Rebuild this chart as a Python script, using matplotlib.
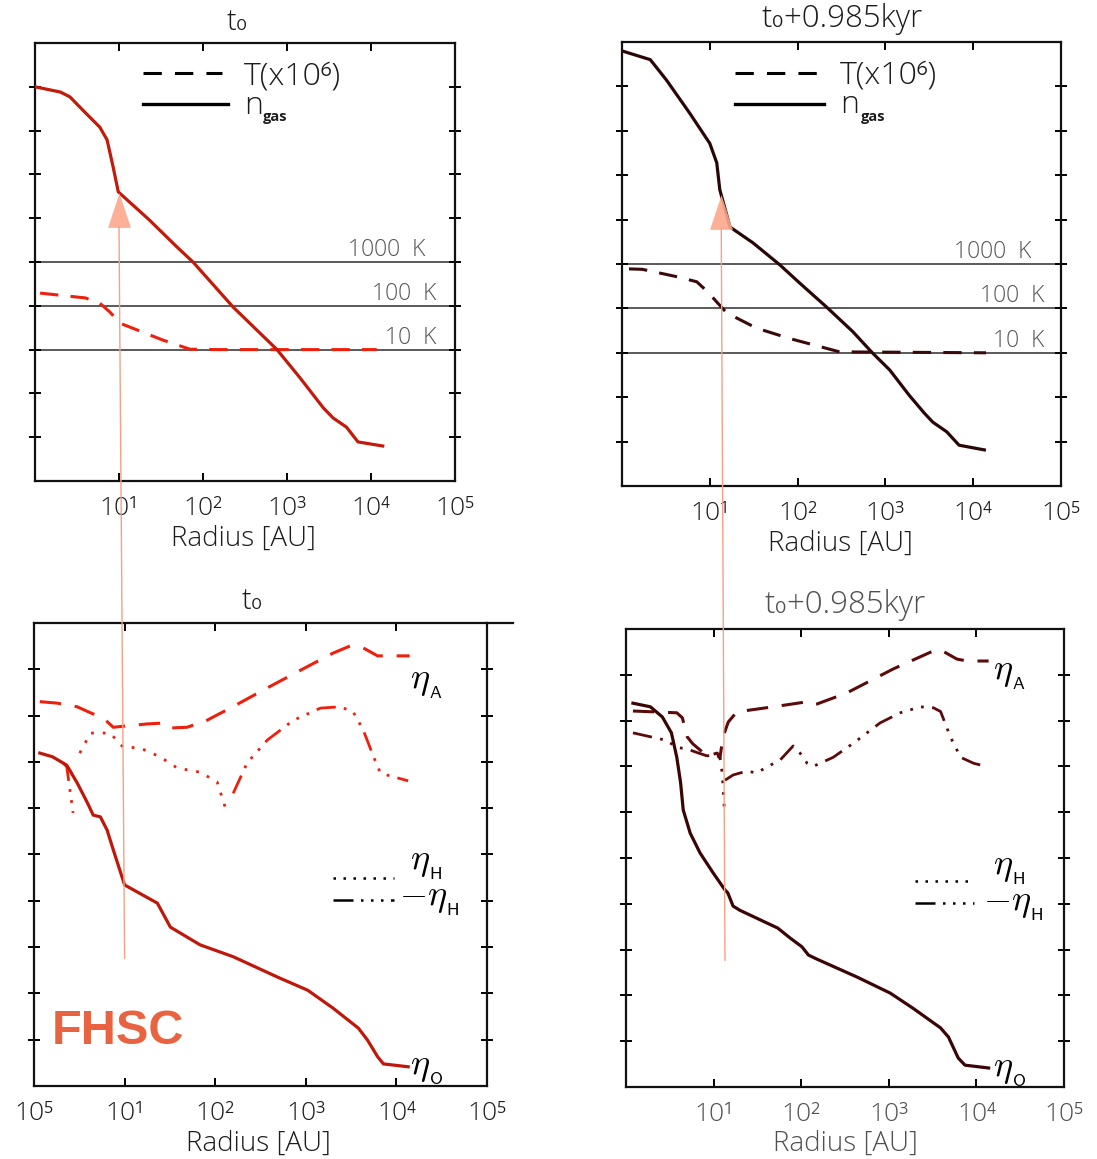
import numpy as np
import matplotlib
matplotlib.use("Agg")
import matplotlib.pyplot as plt
from matplotlib.lines import Line2D
from matplotlib.patches import ConnectionPatch
from matplotlib.path import Path
from matplotlib.ticker import FixedLocator, NullLocator, LogLocator, NullFormatter
from matplotlib.transforms import blended_transform_factory

plt.rcParams["font.family"] = ["Open Sans", "DejaVu Sans"]
plt.rcParams["font.weight"] = "light"
plt.rcParams["mathtext.fontset"] = "cm"

# ---------------------------------------------------------------- data
# radius in AU, gas density in cm^-3, temperature in K, resistivities in cm^2/s
ngas_t0_r = [1.0, 2.0, 2.6, 3.7, 5.9, 7.2, 8.5, 9.8, 23, 49, 76, 229, 760,
             1420, 2700, 3540, 5100, 7000, 13800]
ngas_t0 = [1.0e13, 7.6e12, 5.9e12, 2.95e12, 1.2e12, 6.2e11, 1.5e11, 4.0e10,
           9.1e9, 2.2e9, 1.0e9, 9.3e7, 1.0e7, 2.3e6, 4.7e5, 2.75e5, 1.7e5,
           7.8e4, 6.3e4]
temp_t0_r = [1.15, 4.0, 5.9, 7.8, 10.3, 33, 70, 150, 11700]
temp_t0 = [195, 151, 115, 72, 40, 16.6, 10.2, 10, 10]

ngas_t1_r = [1.0, 2.1, 3.2, 5.9, 10, 12, 13, 17, 31, 63, 106, 214, 425, 710,
             1120, 1870, 2770, 3460, 5000, 6900, 13400]
ngas_t1 = [6.3e13, 4.0e13, 1.4e13, 2.5e12, 5.2e11, 1.9e11, 4.7e10, 6.8e9,
           3.0e9, 9.5e8, 3.7e8, 1.07e8, 3.0e7, 1.0e7, 4.1e6, 1.1e6, 4.4e5,
           2.75e5, 1.66e5, 8.3e4, 6.5e4]
temp_t1_r = [1.2, 1.7, 4.3, 7.1, 9.5, 12.3, 15.6, 34, 81, 187, 300, 14000]
temp_t1 = [776, 759, 513, 398, 234, 132, 79, 36, 21, 13.5, 10.5, 10]

temp_levels = [10, 100, 1000]
temp_scale = 1e6

etaO_t0_r = [1.16, 1.6, 2.3, 3.0, 3.9, 4.5, 5.4, 6.4, 7.5, 10, 13.8, 23, 32,
             68, 158, 490, 1050, 2000, 3800, 4800, 6200, 7200, 13500]
etaO_t0 = [1.55e21, 1.29e21, 8.5e20, 3.5e20, 1.29e20, 7.1e19, 6.5e19, 3.4e19,
           1.26e19, 2.2e18, 1.55e18, 8.9e17, 2.7e17, 1.12e17, 6.2e16, 2.24e16,
           1.17e16, 4.8e15, 1.78e15, 9.8e14, 4.3e14, 3.0e14, 2.6e14]
etaA_t0_r = [1.16, 1.8, 3.0, 4.2, 5.8, 7.5, 10.6, 17.7, 27, 32, 49, 81, 159,
             370, 870, 2000, 3100, 4300, 6200, 14000]
etaA_t0 = [2.0e22, 1.86e22, 1.55e22, 1.15e22, 8.9e21, 5.6e21, 6.0e21, 6.6e21,
           6.9e21, 5.4e21, 5.6e21, 7.9e21, 1.58e22, 3.9e22, 9.5e22, 2.24e23,
           3.2e23, 2.9e23, 1.95e23, 1.95e23]
etaH_pos_t0_r = [3.2, 4.2, 6.9, 9.6, 14.8, 24.6, 38, 68, 105, 135]
etaH_pos_t0 = [1.55e21, 4.2e21, 4.2e21, 2.1e21, 2.0e21, 1.29e21, 7.4e20,
               6.0e20, 3.7e20, 7.9e19]
etaH_neg_t0 = [
    ([2.1, 2.3, 2.7], [9.5e20, 7.8e20, 7.9e19]),
    ([158, 225, 375, 727, 1450, 2400, 3340, 4300, 5600, 6600, 7900, 13500],
     [2.1e20, 9.5e20, 2.95e21, 7.9e21, 1.45e22, 1.55e22, 1.2e22, 4.9e21,
      1.29e21, 6.0e20, 5.2e20, 3.9e20]),
]

etaO_t1_r = [1.2, 1.9, 2.6, 3.3, 3.8, 4.2, 4.5, 5.4, 7.0, 9.9, 13.5, 14.5,
             16.7, 20, 54, 75, 102, 121, 151, 437, 1040, 1900, 3900, 4800,
             6200, 7400, 13800]
etaO_t1 = [2.4e22, 2.0e22, 1.2e22, 5.4e21, 1.58e21, 4.4e20, 1.12e20, 3.5e19,
           1.29e19, 4.7e18, 2.0e18, 1.74e18, 8.9e17, 7.2e17, 2.95e17, 1.78e17,
           1.15e17, 7.6e16, 6.2e16, 2.5e16, 1.12e16, 5.2e15, 1.95e15, 1.23e15,
           4.3e14, 3.0e14, 2.6e14]
etaA_t1_r = [1.2, 3.8, 4.4, 5.0, 5.8, 8.4, 11, 11.8, 12.8, 14.7, 18.4, 48,
             105, 126, 151, 330, 1130, 3200, 3900, 6000, 7900, 13800]
etaA_t1 = [1.62e22, 1.48e22, 1.15e22, 4.4e21, 3.1e21, 1.7e21, 1.95e21,
           1.51e21, 4.4e21, 9.3e21, 1.55e22, 2.0e22, 2.5e22, 2.2e22, 2.3e22,
           4.0e22, 1.35e23, 3.3e23, 3.5e23, 2.2e23, 2.0e23, 2.0e23]
etaH_pos_t1_r = [11.8, 12.3, 12.8, 13.3]
etaH_pos_t1 = [1.58e21, 1.0e21, 4.0e20, 1.0e20]
etaH_neg_t1 = [
    ([1.2, 2.9, 3.8, 5.0, 6.5, 8.4, 10.4, 11.8],
     [5.4e21, 3.7e21, 2.6e21, 2.4e21, 2.0e21, 1.7e21, 1.78e21, 1.58e21]),
    ([13.5, 16.7, 24, 31, 41, 57.5, 81, 97, 117, 137, 232, 393, 795, 1350,
      2300, 3240, 3900, 5050, 6600, 9300, 13400],
     [5.0e20, 6.5e20, 7.9e20, 7.2e20, 9.8e20, 1.38e21, 2.8e21, 1.95e21,
      1.17e21, 1.0e21, 1.58e21, 3.2e21, 8.9e21, 1.48e22, 2.0e22, 1.9e22,
      1.58e22, 4.4e21, 1.58e21, 1.17e21, 9.8e20]),
]

fhsc_r_t0 = 10.0
fhsc_r_t1 = 13.5

xtick_vals = [1, 10, 100, 1e3, 1e4, 1e5]
xtick_text = ["", "10¹", "10²", "10³", "10⁴", "10⁵"]
xtick_text_fhsc = ["10⁵", "10¹", "10²", "10³", "10⁴", "10⁵"]

# ---------------------------------------------------------------- layout
W, H = 1097, 1159
fig = plt.figure(figsize=(W / 100, H / 100), dpi=100)
INK = "#1c1c1c"
GREY_INK = "#505050"


def add_panel(l, t, r, b):
    return fig.add_axes([l / W, 1 - b / H, (r - l) / W, (b - t) / H])


def style_axes(ax, ylim, labels, tcolor):
    ax.set_xscale("log")
    ax.set_yscale("log")
    ax.set_xlim(1, 1e5)
    ax.set_ylim(*ylim)
    ax.xaxis.set_major_locator(FixedLocator(xtick_vals))
    ax.xaxis.set_minor_locator(LogLocator(base=10, subs=np.arange(2, 10)))
    ax.xaxis.set_minor_formatter(NullFormatter())
    ax.set_xticklabels(labels)
    lo, hi = np.log10(ylim)
    ax.yaxis.set_major_locator(FixedLocator(10.0 ** np.arange(lo + 1, hi)))
    ax.yaxis.set_minor_locator(NullLocator())
    ax.set_yticklabels([])
    for s in ax.spines.values():
        s.set_linewidth(1.6)
        s.set_color("#111111")
    ax.tick_params(axis="x", which="major", direction="in", length=6, width=1.4,
                   top=True, bottom=True, labelsize=19, pad=11, labelcolor=tcolor)
    ax.tick_params(axis="x", which="minor", direction="in", length=3.2,
                   width=1.2, top=True, bottom=True)
    ax.tick_params(axis="y", which="major", direction="inout", length=9,
                   width=1.4, left=True, right=True)


ax_tl = add_panel(35, 43, 455, 481)
ax_tr = add_panel(622, 42, 1061, 486)
ax_bl = add_panel(34, 623, 487, 1086)
ax_br = add_panel(626, 629, 1064, 1087)

style_axes(ax_tl, (1e4, 1e14), xtick_text, INK)
style_axes(ax_tr, (1e4, 1e14), xtick_text, INK)
style_axes(ax_bl, (1e14, 1e24), xtick_text_fhsc, INK)
style_axes(ax_br, (1e14, 1e24), xtick_text, GREY_INK)

# ---------------------------------------------------------------- density / temperature
dash_T = (0, (6, 4))
dash_A = (0, (7, 4.5))
dot_H = (0, (1.0, 3.2))
dash3dot = (0, (7, 3, 1, 3, 1, 3, 1, 3))


def density_panel(ax, nr, nv, tr, tv, c_n, c_t, lab_right):
    for lev in temp_levels:
        ax.axhline(lev * temp_scale, color="#4d4d4d", lw=1.3, zorder=1)
    trans = blended_transform_factory(ax.transAxes, ax.transData)
    for lev, xr in zip(temp_levels, lab_right):
        ax.text(xr, lev * temp_scale * 1.0, f"{lev}  K", transform=trans,
                ha="right", va="bottom", fontsize=16.5, color="#555555")
    ax.plot(tr, np.array(tv) * temp_scale, color=c_t, lw=2.2, ls=dash_T,
            zorder=3)
    ax.plot(nr, nv, color=c_n, lw=2.3, zorder=4)
    # legend
    ax.add_line(Line2D([0.257, 0.445], [0.931, 0.931], transform=ax.transAxes,
                       color="black", lw=2.2, ls=(0, (6, 4.3))))
    ax.add_line(Line2D([0.257, 0.46], [0.861, 0.861], transform=ax.transAxes,
                       color="black", lw=2.4))
    ax.text(0.497, 0.924, "T(x10⁶)", transform=ax.transAxes, fontsize=23,
            va="center", ha="left", color=INK)
    ax.text(0.497, 0.857, "n", transform=ax.transAxes, fontsize=23,
            va="center", ha="left", color=INK)
    ax.text(0.543, 0.83, "gas", transform=ax.transAxes, fontsize=10.5,
            fontweight="bold", va="center", ha="left", color=INK)


density_panel(ax_tl, ngas_t0_r, ngas_t0, temp_t0_r, temp_t0,
              "#c21a0b", "#ee1f0d", [0.955, 0.955, 0.93])
density_panel(ax_tr, ngas_t1_r, ngas_t1, temp_t1_r, temp_t1,
              "#2a0707", "#3a0909", [0.962, 0.962, 0.932])

# ---------------------------------------------------------------- resistivities


def eta_label(ax, xy, sub, minus=False):
    sign = "-" if minus else ""
    ax.text(xy[0], xy[1], r"$%s\eta_{_{\mathsf{%s}}}$" % (sign, sub),
            transform=ax.transAxes, fontsize=26, va="center", ha="left")


def eta_panel(ax, oR, oV, aR, aV, hpR, hpV, hneg, c_o, c_e, lab):
    ax.plot(aR, aV, color=c_e, lw=2.2, ls=dash_A, zorder=3)
    ax.plot(hpR, hpV, color=c_e, lw=2.0, ls=dot_H, zorder=3)
    for r, v in hneg:
        ax.plot(r, v, color=c_e, lw=2.0, ls=dash3dot, zorder=3)
    ax.plot(oR, oV, color=c_o, lw=2.3, zorder=4)
    # legend
    ax.add_line(Line2D([0.66, 0.795], [0.449, 0.449], transform=ax.transAxes,
                       color="black", lw=1.8, ls=(0, (1.0, 3.0))))
    ax.add_line(Line2D([0.66, 0.795], [0.402, 0.402], transform=ax.transAxes,
                       color="black", lw=1.8, ls=(0, (8, 3, 1, 3, 1, 3, 1, 3))))
    eta_label(ax, lab["A"], "A")
    eta_label(ax, lab["H"], "H")
    eta_label(ax, lab["nH"], "H", minus=True)
    eta_label(ax, lab["O"], "O")


eta_panel(ax_bl, etaO_t0_r, etaO_t0, etaA_t0_r, etaA_t0, etaH_pos_t0_r,
          etaH_pos_t0, etaH_neg_t0, "#c0170b", "#ee200d",
          {"A": (0.83, 0.872), "H": (0.83, 0.48), "nH": (0.805, 0.402),
           "O": (0.83, 0.037)})
eta_panel(ax_br, etaO_t1_r, etaO_t1, etaA_t1_r, etaA_t1, etaH_pos_t1_r,
          etaH_pos_t1, etaH_neg_t1, "#3a0505", "#5c0b0b",
          {"A": (0.837, 0.902), "H": (0.837, 0.477), "nH": (0.815, 0.399),
           "O": (0.837, 0.035)})

# ---------------------------------------------------------------- titles & axis labels
fig.text(237 / W, 1 - 22 / H, "t₀", fontsize=21, ha="center", va="center",
         color=INK)
fig.text(842 / W, 1 - 19 / H, "t₀+0.985kyr", fontsize=22.5, ha="center",
         va="center", color=INK)
fig.text(252 / W, 1 - 601 / H, "t₀", fontsize=21, ha="center", va="center",
         color=INK)
fig.text(845 / W, 1 - 605 / H, "t₀+0.985kyr", fontsize=22.5, ha="center",
         va="center", color=GREY_INK)
fig.text(243 / W, 1 - 539 / H, "Radius [AU]", fontsize=20, ha="center",
         va="center", color=INK)
fig.text(840 / W, 1 - 544 / H, "Radius [AU]", fontsize=20, ha="center",
         va="center", color=INK)
fig.text(258 / W, 1 - 1144 / H, "Radius [AU]", fontsize=20, ha="center",
         va="center", color=INK)
fig.text(845 / W, 1 - 1144 / H, "Radius [AU]", fontsize=20, ha="center",
         va="center", color=GREY_INK)

# overhanging top frame segment of the lower-left panel
fig.add_artist(Line2D([487 / W, 513 / W], [1 - 623 / H, 1 - 623 / H],
                      color="#111111", lw=1.6))

fig.text(52 / W, 1 - 1031 / H, "FHSC", fontsize=35, fontweight="bold",
         family=["Liberation Sans", "DejaVu Sans"], color="#ea6340",
         ha="left", va="center")

# ---------------------------------------------------------------- FHSC pointers
salmon_line = "#f6a084"
salmon_head = "#fca88c"
head = Path([(-0.33, -0.5), (0.33, -0.5), (0.0, 0.5), (-0.33, -0.5)],
            [Path.MOVETO, Path.LINETO, Path.LINETO, Path.CLOSEPOLY])

for ax_top, ax_bot, r in ((ax_tl, ax_bl, fhsc_r_t0), (ax_tr, ax_br, fhsc_r_t1)):
    cp = ConnectionPatch(xyA=(r, 10 ** 9.8), coordsA="data", axesA=ax_top,
                         xyB=(r, 10 ** 16.76), coordsB="data", axesB=ax_bot,
                         color=salmon_line, lw=1.0, zorder=6)
    fig.add_artist(cp)
    ax_top.plot([r], [10 ** 10.18], marker=head, ms=25, color=salmon_head,
                mec="none", alpha=0.9, zorder=6, clip_on=False)

fig.savefig("out.png", dpi=100, facecolor="white")
